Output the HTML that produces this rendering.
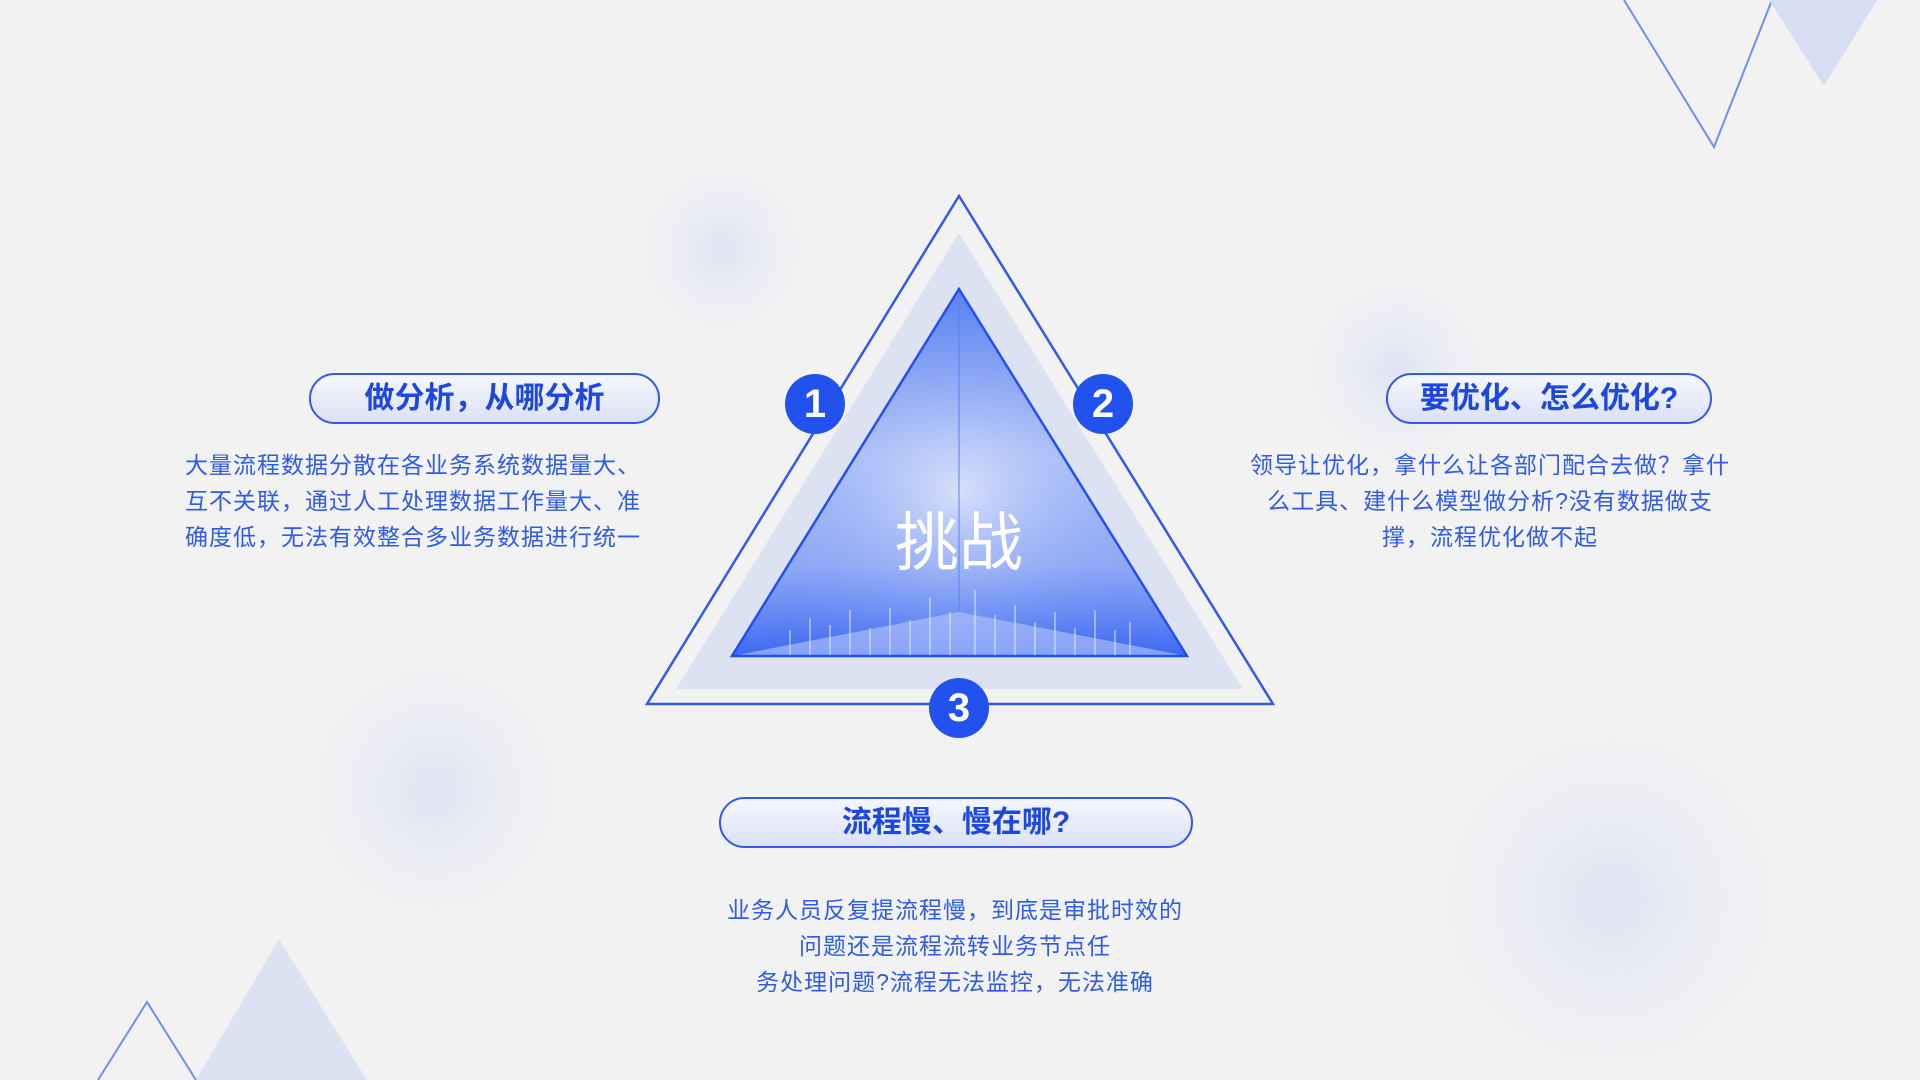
<!DOCTYPE html>
<html><head><meta charset="utf-8"><style>
html,body{margin:0;padding:0}
body{width:1920px;height:1080px;background:#f2f2f3;position:relative;overflow:hidden;font-family:"Liberation Sans","Noto Sans CJK SC",sans-serif}
.pill{position:absolute;border:2px solid #2f5be8;border-radius:40px;background:linear-gradient(180deg,#f6f7fd,#dbe1f6);box-sizing:border-box;text-align:center;color:#1d48e0;font-weight:bold;font-size:30px;line-height:48px}
.p{position:absolute;color:#2f5be8;font-size:23px;line-height:36px;letter-spacing:1px}
.num{position:absolute;width:60px;height:60px;border-radius:50%;background:#2252ee;color:#fff;font-weight:bold;font-size:40px;line-height:60px;text-align:center}
</style></head><body>
<svg width="1920" height="1080" style="position:absolute;left:0;top:0">
<defs>
<radialGradient id="b1"><stop offset="0" stop-color="#dfe3f3"/><stop offset="1" stop-color="#f2f2f3" stop-opacity="0"/></radialGradient>
<linearGradient id="inner" x1="0" y1="0" x2="0" y2="1"><stop offset="0" stop-color="#5a82f5"/><stop offset="0.45" stop-color="#c8d4f8"/><stop offset="0.75" stop-color="#9fb5f7"/><stop offset="1" stop-color="#3c68f3"/></linearGradient>
<radialGradient id="glow" cx="0.5" cy="0.55" r="0.6"><stop offset="0" stop-color="#dbe3fb" stop-opacity="0.9"/><stop offset="1" stop-color="#3060f0" stop-opacity="0"/></radialGradient>
</defs>
<circle cx="722" cy="250" r="110" fill="url(#b1)"/>
<circle cx="435" cy="790" r="170" fill="url(#b1)"/>
<circle cx="1396" cy="370" r="120" fill="url(#b1)"/>
<circle cx="1610" cy="900" r="230" fill="url(#b1)"/>
<polyline points="1624,0 1714,147 1772,0" fill="none" stroke="#6f8ef0" stroke-width="2"/>
<polygon points="1769,0 1824,86 1877,0" fill="#d8def2"/>
<polygon points="279,939 196,1080 367,1080" fill="#dde2f2"/>
<polyline points="98,1080 147,1002 196,1080" fill="none" stroke="#6f8ef0" stroke-width="2"/>
<polygon points="959,196 647,704 1273,704" fill="none" stroke="#2f5be8" stroke-width="2.5"/>
<polygon points="959,233 676,689 1243,689" fill="#dde2f2"/>
<polygon points="959,289 732,656 1187,656" fill="url(#inner)"/>
<polygon points="959,289 732,656 1187,656" fill="url(#glow)"/>
<polygon points="732,656 959,612 1187,656" fill="#b8c8fa" opacity="0.6"/>
<line x1="959" y1="289" x2="959" y2="612" stroke="#5a80f0" stroke-width="1"/>
<polygon points="959,289 732,656 1187,656" fill="none" stroke="#2250ee" stroke-width="2.5"/>
<g stroke="#e6ecff" stroke-width="1.2" opacity="0.8">
<line x1="790" y1="655" x2="790" y2="630"/><line x1="810" y1="655" x2="810" y2="618"/><line x1="830" y1="655" x2="830" y2="625"/><line x1="850" y1="655" x2="850" y2="610"/><line x1="870" y1="655" x2="870" y2="628"/><line x1="890" y1="655" x2="890" y2="608"/><line x1="910" y1="655" x2="910" y2="620"/><line x1="930" y1="655" x2="930" y2="598"/><line x1="950" y1="655" x2="950" y2="612"/><line x1="975" y1="655" x2="975" y2="590"/><line x1="995" y1="655" x2="995" y2="615"/><line x1="1015" y1="655" x2="1015" y2="605"/><line x1="1035" y1="655" x2="1035" y2="622"/><line x1="1055" y1="655" x2="1055" y2="612"/><line x1="1075" y1="655" x2="1075" y2="628"/><line x1="1095" y1="655" x2="1095" y2="610"/><line x1="1115" y1="655" x2="1115" y2="630"/><line x1="1130" y1="655" x2="1130" y2="622"/>
</g>
<text x="959" y="565" text-anchor="middle" fill="#fff" font-size="64" font-family="Liberation Sans,Noto Sans CJK SC,sans-serif">挑战</text>
</svg>
<div class="num" style="left:785px;top:374px">1</div>
<div class="num" style="left:1073px;top:374px">2</div>
<div class="num" style="left:929px;top:678px">3</div>
<div class="pill" style="left:309px;top:373px;width:351px;height:51px">做分析，从哪分析</div>
<div class="pill" style="left:1386px;top:373px;width:326px;height:51px">要优化、怎么优化?</div>
<div class="pill" style="left:719px;top:797px;width:474px;height:51px">流程慢、慢在哪?</div>
<div class="p" style="left:185px;top:447px;width:500px">大量流程数据分散在各业务系统数据量大、<br>互不关联，通过人工处理数据工作量大、准<br>确度低，无法有效整合多业务数据进行统一</div>
<div class="p" style="left:1220px;top:447px;width:540px;text-align:center">领导让优化，拿什么让各部门配合去做？拿什<br>么工具、建什么模型做分析?没有数据做支<br>撑，流程优化做不起</div>
<div class="p" style="left:670px;top:892px;width:570px;text-align:center">业务人员反复提流程慢，到底是审批时效的<br>问题还是流程流转业务节点任<br>务处理问题?流程无法监控，无法准确</div>
</body></html>
